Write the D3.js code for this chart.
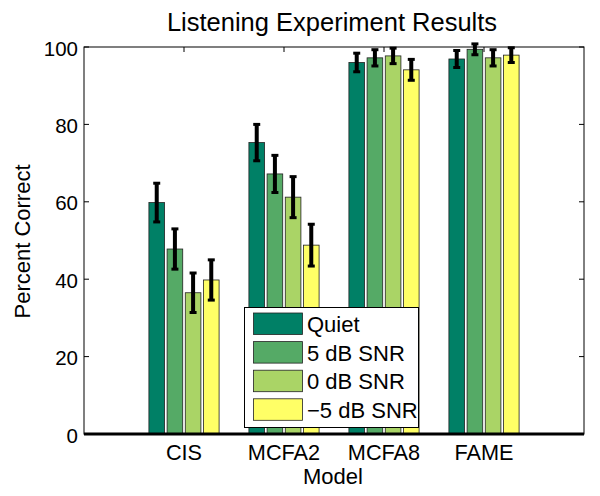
<!DOCTYPE html>
<html><head><meta charset="utf-8">
<script src="https://cdn.jsdelivr.net/npm/d3@7"></script>
<style>body{margin:0;background:#fff;} text{font-family:"Liberation Sans",Arial,Helvetica,sans-serif;}</style>
</head><body><svg id="c" width="600" height="496"></svg>
<script>
const categories = ["CIS","MCFA2","MCFA8","FAME"];
const seriesNames = ["Quiet","5 dB SNR","0 dB SNR","\u22125 dB SNR"];
const quiet   = [59.8, 75.3, 96.0, 96.9];
const snr5    = [47.8, 67.2, 97.2, 99.4];
const snr0    = [36.5, 61.2, 97.7, 97.2];
const snrM5   = [39.8, 48.8, 94.1, 97.9];
const errQuiet = [5.0, 4.7, 2.4, 2.2];
const errSnr5  = [5.2, 4.8, 2.1, 1.4];
const errSnr0  = [5.1, 5.3, 2.0, 2.1];
const errSnrM5 = [5.2, 5.4, 2.7, 1.9];
const yTicks = [0,20,40,60,80,100];
const colors = ["#008066","#55aa66","#aad466","#ffff66"];

const values = [quiet, snr5, snr0, snrM5];
const errs = [errQuiet, errSnr5, errSnr0, errSnrM5];

const svg = d3.select("#c");
const L=84, R=584, T=47, B=434;
const x = d3.scaleLinear().domain([0,5]).range([L,R]);
const y = d3.scaleLinear().domain([0,100]).range([B,T]);
const nb = 4, gw = Math.min(0.8, nb/(nb+1.5)), step = gw/nb, bw = step*0.86;

// frame
svg.append("rect").attr("x",L).attr("y",T).attr("width",R-L).attr("height",B-T)
  .attr("fill","none").attr("stroke","#000").attr("stroke-width",1);

// ticks
yTicks.forEach(t=>{
  svg.append("line").attr("x1",L).attr("x2",L+5).attr("y1",y(t)).attr("y2",y(t)).attr("stroke","#000");
  svg.append("line").attr("x1",R).attr("x2",R-5).attr("y1",y(t)).attr("y2",y(t)).attr("stroke","#000");
  svg.append("text").attr("x",L-6).attr("y",y(t)+8.5).attr("text-anchor","end").attr("font-size",20.5).text(t);
});
categories.forEach((c,i)=>{
  svg.append("line").attr("x1",x(i+1)).attr("x2",x(i+1)).attr("y1",T).attr("y2",T+5).attr("stroke","#000");
  svg.append("text").attr("x",x(i+1)).attr("y",B+25.5).attr("text-anchor","middle").attr("font-size",21.7).text(c);
});

// bars
values.forEach((vals,s)=>{
  vals.forEach((v,i)=>{
    const cx = x(i+1) + (-gw/2 + (s+0.5)*step)*(x(1)-x(0));
    const w = bw*(x(1)-x(0));
    svg.append("rect").attr("x",cx-w/2).attr("y",y(v)).attr("width",w).attr("height",y(0)-y(v))
      .attr("fill",colors[s]).attr("stroke","#222").attr("stroke-width",0.8);
    const e = errs[s][i];
    svg.append("line").attr("x1",cx).attr("x2",cx).attr("y1",y(v+e)).attr("y2",y(v-e)).attr("stroke","#000").attr("stroke-width",4);
    [v+e,v-e].forEach(yy=>svg.append("line").attr("x1",cx-3.5).attr("x2",cx+3.5).attr("y1",y(yy)).attr("y2",y(yy)).attr("stroke","#000").attr("stroke-width",3));
  });
});

// baseline
svg.append("line").attr("x1",L).attr("x2",R).attr("y1",B).attr("y2",B).attr("stroke","#000").attr("stroke-width",3);

// legend
const lg = svg.append("g");
lg.append("rect").attr("x",244.5).attr("y",307.5).attr("width",174).attr("height",120).attr("fill","#fff").attr("stroke","#000");
seriesNames.forEach((n,s)=>{
  const yy = 313 + s*28.6;
  lg.append("rect").attr("x",253.5).attr("y",yy).attr("width",49).attr("height",21.5).attr("fill",colors[s]).attr("stroke","#222").attr("stroke-width",0.8);
  lg.append("text").attr("x",307).attr("y",yy+19).attr("font-size",22).text(n);
});

// titles
svg.append("text").attr("x",332).attr("y",30.5).attr("text-anchor","middle").attr("font-size",25.5).text("Listening Experiment Results");
svg.append("text").attr("x",333).attr("y",484).attr("text-anchor","middle").attr("font-size",22).text("Model");
svg.append("text").attr("transform",`translate(29.5,241.5) rotate(-90)`).attr("text-anchor","middle").attr("font-size",22).text("Percent Correct");
</script></body></html>
